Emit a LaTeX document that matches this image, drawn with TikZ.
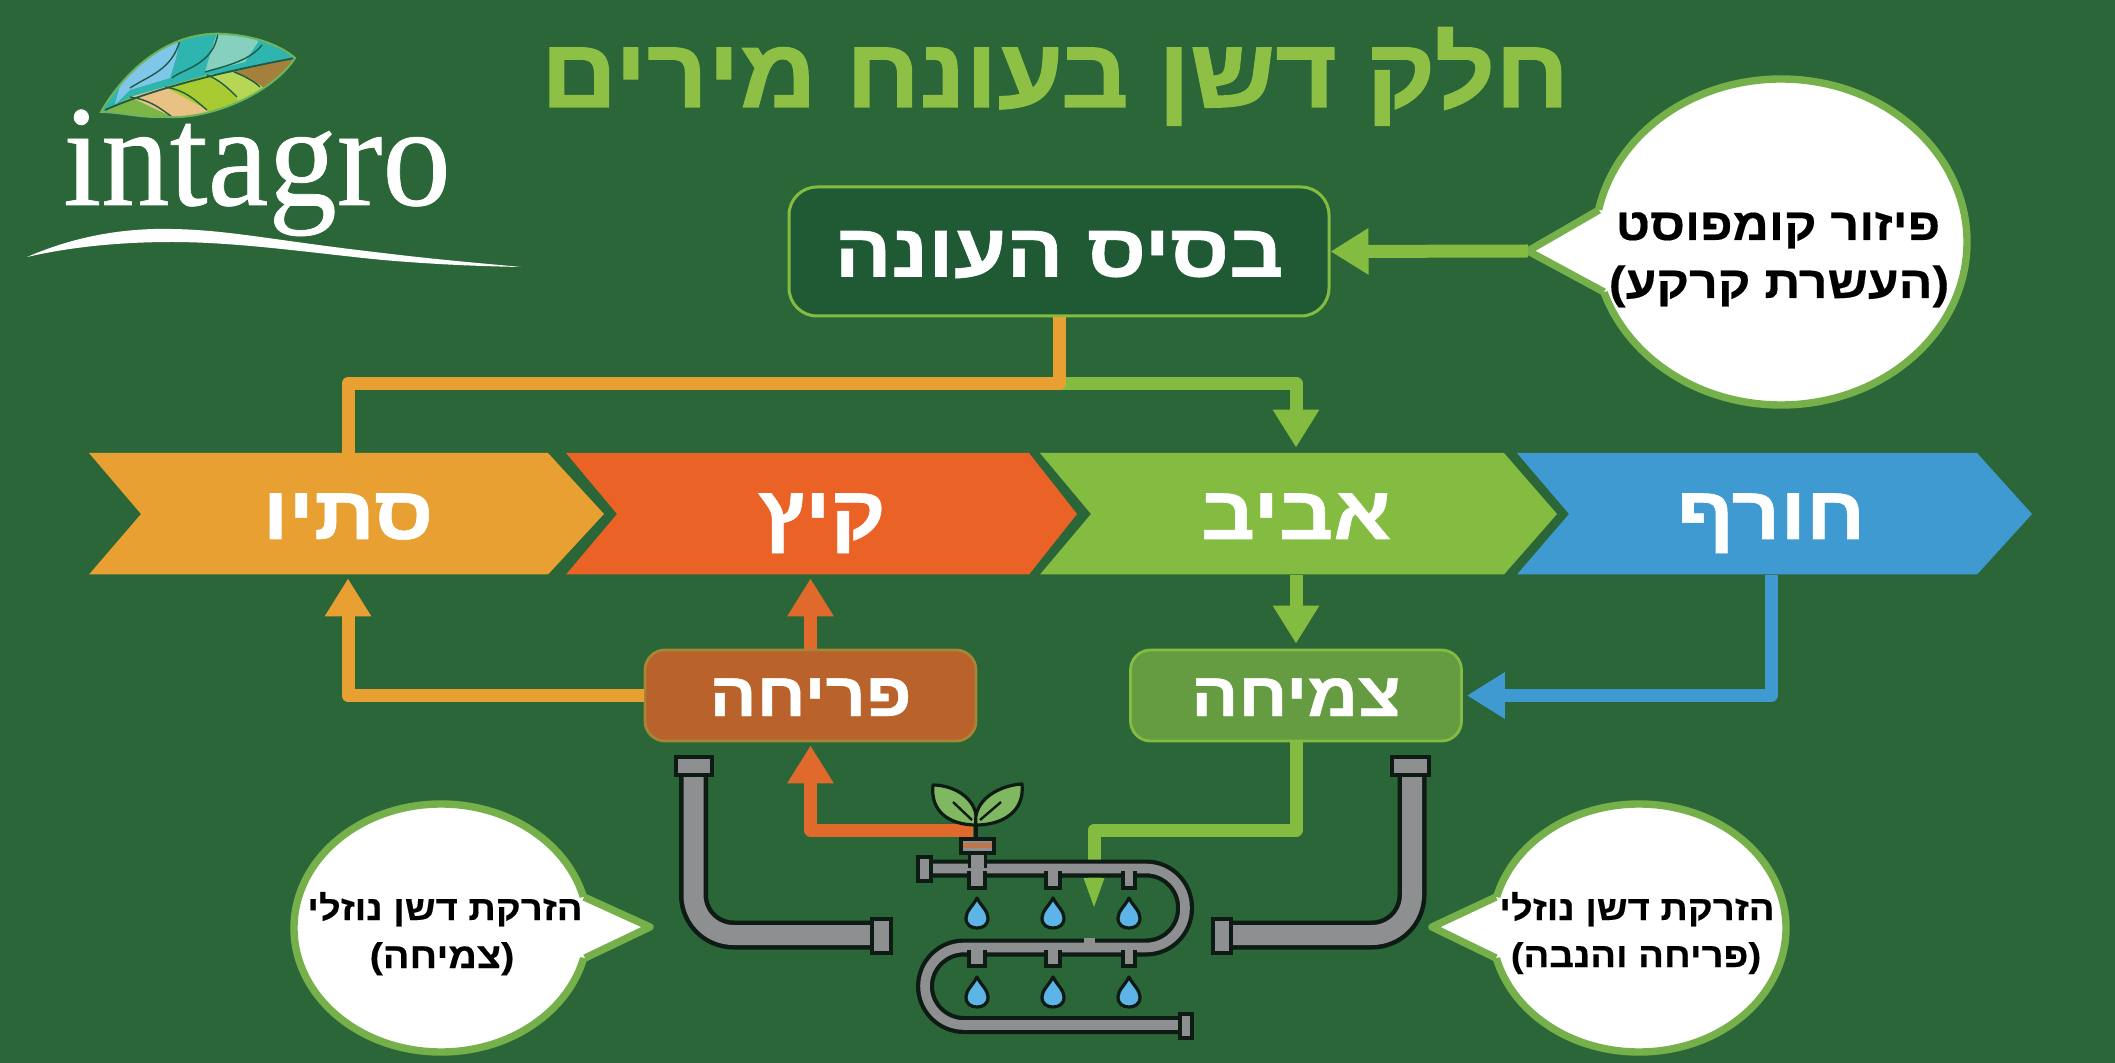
\documentclass[tikz,border=0pt]{standalone}
\usepackage{fontspec}
\setmainfont{Liberation Serif}
\newfontfamily\logofont[FakeBold=0.5]{Liberation Serif}
\newfontfamily\hebT[Script=Hebrew,FakeStretch=1.08,BoldFeatures={FakeBold=1.2}]{Liberation Sans}
\newfontfamily\hebS[Script=Hebrew,FakeStretch=1.13,BoldFeatures={FakeBold=0.8}]{Liberation Sans}
\newfontfamily\hebB[Script=Hebrew,FakeStretch=1.11,BoldFeatures={FakeBold=0.4}]{Liberation Sans}
\TeXXeTstate=1
\usetikzlibrary{arrows.meta,shapes.geometric,calc}
\definecolor{bgc}{HTML}{2A6637}
\definecolor{boxc}{HTML}{1F5A35}
\definecolor{lgreen}{HTML}{84BC42}
\definecolor{titlec}{HTML}{8DC044}
\definecolor{orangec}{HTML}{E8A032}
\definecolor{redc}{HTML}{EA6226}
\definecolor{bluec}{HTML}{3F9AD2}
\definecolor{lineorange}{HTML}{DF6A2B}
\definecolor{prc}{HTML}{BA622B}
\definecolor{tzc}{HTML}{659C41}
\definecolor{pipec}{HTML}{8E8F90}
\definecolor{darkc}{HTML}{0E1A14}
\definecolor{dropc}{HTML}{5DB4E6}
\definecolor{bubc}{HTML}{75B04A}
\definecolor{leafteal}{HTML}{2FB5B0}
\definecolor{leafblue}{HTML}{7FC6E8}
\definecolor{leaflteal}{HTML}{86D0BF}
\definecolor{leafbrown}{HTML}{A5803A}
\definecolor{leaflime}{HTML}{B6D656}
\definecolor{leaflime2}{HTML}{A8CB32}
\definecolor{leaftan}{HTML}{EAC184}
\definecolor{leafgreen}{HTML}{7CB648}
\definecolor{leafline}{HTML}{1F5A45}
\definecolor{sprout}{HTML}{7FB860}
\definecolor{bandc}{HTML}{C0764A}
\newcommand{\hb}[1]{\beginR #1\endR}
\newcommand{\speech}[7]{%
  \node[bubshape,minimum width=#2,minimum height=#3] (#1) at #4 {};
  \coordinate (#1tip) at #5;
  \fill[white] #6 -- (#1tip) -- #7 -- (#1.center) -- cycle;
  \draw[bubc,line width=3.7pt,line join=round] #6 -- (#1tip) -- #7;
}
\newcommand{\wdrop}[2]{%
  \draw[darkc,line width=1.6pt,fill=dropc,line join=round] (#1,#2) .. controls (#1+4,#2+8) and (#1+11,#2+13) .. (#1+11,#2+20) .. controls (#1+11,#2+27) and (#1+6,#2+30) .. (#1,#2+30) .. controls (#1-6,#2+30) and (#1-11,#2+27) .. (#1-11,#2+20) .. controls (#1-11,#2+13) and (#1-4,#2+8) .. (#1,#2) -- cycle;
}
\tikzset{
  season/.style={font=\hebS\bfseries\fontsize{37.5}{40}\selectfont,text=white,inner sep=0pt,minimum height=61pt,minimum width=100pt,text height=25pt,text depth=0pt},
  stage/.style={font=\hebS\bfseries\fontsize{31}{34}\selectfont,text=white,rounded corners=10pt,line width=1.4pt,minimum width=165.5pt,minimum height=45.5pt,inner sep=0pt,text height=20.5pt,text depth=0pt,draw},
  bubshape/.style={ellipse,draw=bubc,fill=white,line width=3.7pt,inner sep=0pt},
  bubtext/.style={font=\hebB\bfseries\fontsize{#1}{#1}\selectfont,text=black,inner sep=0pt,anchor=base},
  conn/.style={line width=6.5pt,line join=round},
  head/.style={-{Triangle[length=19pt,width=22pt]}},
  pipefit/.style={draw=darkc,fill=pipec,line width=1.8pt},
}
\begin{document}
\begin{tikzpicture}[x=0.5pt,y=-0.5pt]
\useasboundingbox (0,0) rectangle (2115,1063);
\fill[bgc] (0,0) rectangle (2115,1063);

% logo leaf
\begin{scope}
\clip (101,112) .. controls (125,70) and (170,30) .. (225,34) .. controls (255,36) and (280,45) .. (295,58) .. controls (275,90) and (215,120) .. (165,117) .. controls (140,118) and (120,112) .. (101,112) -- cycle;
\fill[leafteal] (90,20) rectangle (300,125);
\fill[leafblue] (115,105) -- (130,45) -- (182,30) -- (176,58) -- (170,78) -- (130,90) -- cycle;
\fill[leaflteal] (220,25) -- (212,48) -- (205,72) -- (245,62) -- (258,42) -- (250,25) -- cycle;
\fill[leafbrown] (234,72) -- (300,56) -- (280,100) -- (260,87) -- cycle;
\fill[leaflime] (207,75) -- (234,72) -- (260,85) -- (270,95) -- (237,105) -- cycle;
\fill[leaflime2] (165,87) -- (207,75) -- (237,95) -- (237,110) -- (207,118) -- cycle;
\fill[leaftan] (130,97) -- (165,87) -- (207,110) -- (210,125) -- (172,125) -- cycle;
\fill[leafgreen] (95,116) -- (130,97) -- (172,117) -- (172,125) -- (95,125) -- cycle;
\draw[leafline,line width=.9pt] (105,110) .. controls (150,90) and (220,72) .. (295,58);
\draw[leafline,line width=.7pt] (130,97) .. controls (150,100) and (160,108) .. (172,117);
\draw[leafline,line width=.7pt] (165,87) .. controls (185,90) and (195,100) .. (207,110);
\draw[leafline,line width=.7pt] (207,75) .. controls (220,80) and (230,90) .. (237,97);
\draw[leafline,line width=.7pt] (234,72) .. controls (245,76) and (255,82) .. (260,87);
\draw[leafline,line width=.7pt] (130,88) .. controls (150,75) and (172,70) .. (180,40);
\draw[leafline,line width=.7pt] (172,78) .. controls (180,70) and (215,65) .. (218,32);
\draw[leafline,line width=.7pt] (205,72) .. controls (230,65) and (250,60) .. (262,45);
\end{scope}
\draw[leafgreen!80!leafteal,line width=1pt] (101,112) .. controls (125,70) and (170,30) .. (225,34) .. controls (255,36) and (280,45) .. (295,58) .. controls (275,90) and (215,120) .. (165,117) .. controls (140,118) and (120,112) .. (101,112) -- cycle;
\node[font=\logofont\fontsize{72}{72}\selectfont,text=white,anchor=base,inner sep=0pt,xscale=.95] (logo) at (257,205) {intagro};
\fill[white] (27,257) .. controls (80,234) and (130,228) .. (172,229) .. controls (230,230) and (270,240) .. (383,253) .. controls (440,260) and (490,264) .. (521,267) .. controls (470,266) and (430,264) .. (383,260) .. controls (320,254) and (240,242) .. (172,242) .. controls (120,242) and (70,247) .. (27,257) -- cycle;

% title
\node[font=\hebT\bfseries\fontsize{49}{52}\selectfont,text=titlec,anchor=base,inner sep=0pt] (title) at (1055,107) {\hb{חלק דשן בעונח מירים}};

% base box
\node[draw=lgreen,fill=boxc,rounded corners=14pt,line width=1.5pt,minimum width=270pt,minimum height=64.5pt,inner sep=0pt,font=\hebS\bfseries\fontsize{37.5}{40}\selectfont,text=white,text height=25pt,text depth=0pt] (base) at (1059,251.5) {\hb{בסיס העונה}};

% season chevrons
\fill[orangec] (89,453) -- (548,453) -- (604,514) -- (548,574.5) -- (89,574.5) -- (141,514) -- cycle;
\fill[redc] (566,453) -- (1029,453) -- (1077,514) -- (1029,574.5) -- (566,574.5) -- (617,514) -- cycle;
\fill[lgreen] (1040,453) -- (1504,453) -- (1557,514) -- (1504,574.5) -- (1040,574.5) -- (1091,514) -- cycle;
\fill[bluec] (1517,453) -- (1977,453) -- (2032,514) -- (1977,574.5) -- (1517,574.5) -- (1569,514) -- cycle;
\node[season] (autumn) at (348,514) {\hb{סתיו}};
\node[season] (summer) at (822,514) {\hb{קיץ}};
\node[season] (spring) at (1296,514) {\hb{אביב}};
\node[season] (winter) at (1771,514) {\hb{חורף}};

% stage boxes
\node[stage,fill=prc,draw=prc!60!lgreen] (bloom) at (810.5,695.5) {\hb{פריחה}};
\node[stage,fill=tzc,draw=lgreen] (grow) at (1296,695.5) {\hb{צמיחה}};

% bubbles
\speech{bubtop}{186pt}{163pt}{(1781,242)}{(1528,251)}{(1599,210)}{(1604,292)}
\speech{bubleft}{147pt}{124pt}{(441,928)}{(650,927)}{(584,897)}{(585,958)}
\speech{bubright}{147pt}{124pt}{(1639,928)}{(1432,927)}{(1496,897)}{(1496,958)}

\node[bubtext=22.5] (toplineA) at (1778,240) {\hb{פיזור קומפוסט}};
\node[bubtext=22.5] (toplineB) at (1779,298) {\hb{(העשרת קרקע)}};
\node[bubtext=17.2] (leftlineA) at (445,920) {\hb{הזרקת דשן נוזלי}};
\node[bubtext=17.8] (leftlineB) at (442,968) {\hb{(צמיחה)}};
\node[bubtext=17.2] (rightlineA) at (1637,920) {\hb{הזרקת דשן נוזלי}};
\node[bubtext=17.2] (rightlineB) at (1636,967) {\hb{(פריחה והנבה)}};

% connectors
\coordinate (junction) at (1059,383.5);
\draw[conn,lgreen,head,shorten >=2.5pt] (junction) -- (spring.north |- junction) -- (spring.north);
\draw[conn,orangec] (base.south) -- (junction) -- (autumn.north |- junction) -- (autumn.north);
\draw[conn,lgreen,head] (bubtoptip) -- (base.east);
\draw[conn,lgreen,head,shorten >=2.5pt] (spring.south) -- (spring.south |- grow.north);
\draw[conn,bluec,head,shorten >=2pt] (winter.south) -- (winter.south |- grow.east) -- (grow.east);
\draw[conn,orangec,head,shorten >=1.5pt] (bloom.west) -- (autumn.south |- bloom.west) -- (autumn.south);
\draw[conn,lineorange,head,shorten >=1.5pt] (bloom.north) -- (bloom.north |- autumn.south);
\coordinate (sproutfoot) at (973,830);
\draw[conn,lineorange,head,shorten >=1.5pt] (sproutfoot) -- (bloom.south |- sproutfoot) -- (bloom.south);
\coordinate (dripend) at (1094,910);
\draw[conn,lgreen,-{Triangle[length=16pt,width=9pt]}] (grow.south) -- (grow.south |- 0,830) -- (1094,830) -- (dripend);

% L pipes
\draw[darkc,line width=14.5pt,rounded corners=20pt] (693.5,770) -- (693.5,935) -- (880,935);
\draw[pipec,line width=10pt,rounded corners=20pt] (693.5,770) -- (693.5,935) -- (880,935);
\draw[pipefit] (676,757) rectangle (712,775);
\draw[pipefit] (872,919) rectangle (891,953);
\draw[darkc,line width=14.5pt,rounded corners=20pt] (1412,770) -- (1412,935) -- (1225,935);
\draw[pipec,line width=10pt,rounded corners=20pt] (1412,770) -- (1412,935) -- (1225,935);
\draw[pipefit] (1392,757) rectangle (1429,775);
\draw[pipefit] (1213,919) rectangle (1231,953);

% serpentine drip line
\draw[darkc,line width=9pt,rounded corners=19.5pt] (925,868.5) -- (1185,868.5) -- (1185,947.5) -- (925,947.5) -- (925,1025) -- (1185,1025);
\fill[pipec] (1084,938) rectangle (1095,943);
\draw[pipec,line width=4.8pt,rounded corners=19.5pt] (925,868.5) -- (1185,868.5) -- (1185,947.5) -- (925,947.5) -- (925,1025) -- (1185,1025);
\draw[pipefit] (918,857) rectangle (931,881);
\draw[pipefit] (1180,1014) rectangle (1192,1038);
\foreach \xx/\ww in {977/8,1053/7,1129/6}{
  \draw[pipefit] (\xx-\ww,873) rectangle (\xx+\ww,888);
  \fill[pipec] (\xx-\ww+2,869) rectangle (\xx+\ww-2,876);
  \wdrop{\xx}{898}
  \draw[pipefit] (\xx-\ww,952) rectangle (\xx+\ww,966);
  \fill[pipec] (\xx-\ww+2,948) rectangle (\xx+\ww-2,955);
  \wdrop{\xx}{977}
}
% valve and sprout
\draw[pipefit] (970,850) rectangle (985,866);
\fill[pipec] (971,855) rectangle (984,870);
\draw[pipefit] (961,839) rectangle (994,853);
\fill[bandc] (963,843) rectangle (992,848);
\draw[darkc,line width=1.8pt] (976,822) -- (976,839);
\draw[darkc,line width=1.6pt,fill=sprout,line join=round] (976,825) .. controls (950,825) and (930,812) .. (933,785) .. controls (955,785) and (980,800) .. (976,825) -- cycle;
\draw[darkc,line width=1.6pt,fill=sprout,line join=round] (976,825) .. controls (1002,825) and (1025,812) .. (1022,784) .. controls (1000,785) and (972,800) .. (976,825) -- cycle;
\draw[darkc,line width=1.2pt] (972,820) -- (953,802);
\draw[darkc,line width=1.2pt] (980,820) -- (1001,802);
\end{tikzpicture}
\end{document}
